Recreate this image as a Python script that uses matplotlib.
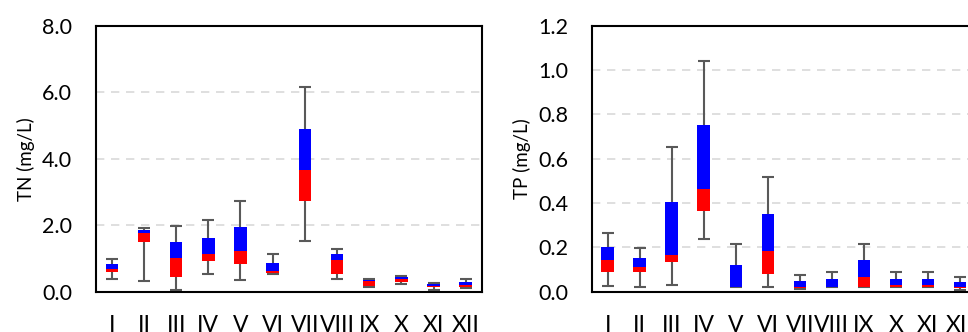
import matplotlib.pyplot as plt
import numpy as np

plt.rcParams['font.family'] = ['Lato', 'DejaVu Sans']

months = ['I', 'II', 'III', 'IV', 'V', 'VI', 'VII', 'VIII', 'IX', 'X', 'XI', 'XII']

# TN (mg/L): whisker low, Q1, median, Q3, whisker high
tn_low = [0.37, 0.32, 0.05, 0.52, 0.35, 0.52, 1.53, 0.39, 0.13, 0.22, 0.05, 0.12]
tn_q1 = [0.58, 1.50, 0.43, 0.93, 0.84, 0.55, 2.72, 0.52, 0.18, 0.29, 0.13, 0.15]
tn_med = [0.68, 1.78, 1.00, 1.12, 1.21, 0.61, 3.65, 0.96, 0.32, 0.38, 0.18, 0.20]
tn_q3 = [0.82, 1.86, 1.48, 1.63, 1.96, 0.86, 4.90, 1.12, 0.35, 0.44, 0.22, 0.30]
tn_high = [0.98, 1.92, 1.98, 2.16, 2.73, 1.12, 6.15, 1.28, 0.38, 0.47, 0.25, 0.39]

# TP (mg/L)
tp_low = [0.027, 0.020, 0.030, 0.239, 0.020, 0.020, 0.014, 0.019, 0.019, 0.019, 0.019, 0.008]
tp_q1 = [0.087, 0.090, 0.132, 0.364, 0.020, 0.081, 0.015, 0.020, 0.020, 0.020, 0.020, 0.018]
tp_med = [0.144, 0.113, 0.164, 0.463, 0.023, 0.185, 0.020, 0.023, 0.066, 0.029, 0.028, 0.022]
tp_q3 = [0.203, 0.153, 0.406, 0.750, 0.120, 0.352, 0.047, 0.056, 0.142, 0.057, 0.056, 0.044]
tp_high = [0.266, 0.195, 0.653, 1.039, 0.217, 0.519, 0.074, 0.088, 0.215, 0.089, 0.088, 0.068]


def draw_panel(ax, low, q1, med, q3, high, ymax, ystep, ylabel):
    x = np.arange(len(months))
    low, q1, med, q3, high = map(np.array, (low, q1, med, q3, high))
    # whiskers behind the boxes
    ax.errorbar(x, med, yerr=[med - low, high - med], fmt='none',
                ecolor='#595959', elinewidth=1.5, capsize=4.3, capthick=1.5, zorder=2)
    ax.bar(x, med - q1, bottom=q1, width=0.39, color='#ff0000', zorder=3)
    ax.bar(x, q3 - med, bottom=med, width=0.39, color='#0000ff', zorder=3)

    ax.set_xlim(-0.5, len(months) - 0.5)
    ax.set_ylim(0, ymax)
    ticks = np.arange(0, ymax + ystep / 2, ystep)
    ax.set_yticks(ticks)
    ax.set_yticklabels(['{:.1f}'.format(t) for t in ticks])
    ax.set_xticks(x)
    ax.set_xticklabels(months)
    ax.tick_params(axis='y', length=0, pad=17, labelsize=15.5)
    ax.tick_params(axis='x', length=0, pad=17, labelsize=16.5)
    for t in ticks[1:-1]:
        ax.axhline(t, color='#d9d9d9', lw=1.2, ls=(0, (5, 4)), zorder=1)
    for s in ax.spines.values():
        s.set_linewidth(1.5)
        s.set_color('black')
    ax.set_ylabel(ylabel, fontsize=13.5, labelpad=5)


fig = plt.figure(figsize=(9.68, 3.32), dpi=100)
ax1 = fig.add_axes([0.0989, 0.1214, 0.3988, 0.801])
ax2 = fig.add_axes([0.6113, 0.1214, 0.3967, 0.801])

draw_panel(ax1, tn_low, tn_q1, tn_med, tn_q3, tn_high, 8.0, 2.0, 'TN (mg/L)')
draw_panel(ax2, tp_low, tp_q1, tp_med, tp_q3, tp_high, 1.2, 0.2, 'TP (mg/L)')

fig.savefig('out.png', dpi=100)
